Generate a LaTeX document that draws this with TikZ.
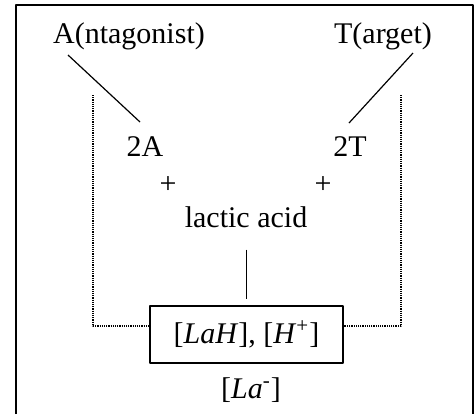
\documentclass[tikz,border=0pt]{standalone}
\usepackage{fontspec}
\setmainfont{Liberation Serif}
\begin{document}
\begin{tikzpicture}[x=0.5pt, y=-0.5pt, line join=round, font=\fontsize{15}{18}\selectfont,
	lbl/.style={inner sep=0pt, anchor=base},
	thin line/.style={line width=0.6pt},
	dotline/.style={line width=0.6pt, dash pattern=on 0.6pt off 0.5pt}]
	\useasboundingbox (0,0) rectangle (476,414);
	% Khung ngoài
	\draw[line width=0.8pt] (16,414) -- (16,5) -- (473,5) -- (473,414);
	
	% Các nhãn
	\node[lbl] (ant) at (129,43) {A(ntagonist)};
	\node[lbl] (tar) at (383,43) {T(arget)};
	\node[lbl] (twoA) at (145,156) {2A};
	\node[lbl] (twoT) at (350,156) {2T};
	\node[inner sep=0pt] (plA) at (168,185) {+};
	\node[inner sep=0pt] (plT) at (323,185) {+};
	\node[lbl] (lac) at (246,227) {lactic acid};
	\node[draw, thin line, minimum width=96.5pt, minimum height=28.5pt, inner sep=0pt]
		(conc) at (246.5,334.5) {[\textit{LaH}], [\textit{H}\textsuperscript{+}]};
	\node[lbl] (ion) at (251,398) {[\textit{La}\textsuperscript{-}]};
	
	% Các đường nối
	\coordinate (a1) at (68,55);  \coordinate (a2) at (140,122);
	\coordinate (t1) at (413,53); \coordinate (t2) at (349,123);
	\draw[thin line] (a1) -- (a2);
	\draw[thin line] (t1) -- (t2);
	\draw[thin line, shorten <=11pt, shorten >=3pt] (lac.south -| conc.north) -- (conc.north);
	
	% Đường chấm hai bên
	\coordinate (lt) at (93,95);  \coordinate (lb) at (93,326);
	\coordinate (rt) at (401,95); \coordinate (rb) at (401,326);
	\draw[dotline] (lt) -- (lb) -- (lb -| conc.west);
	\draw[dotline] (rt) -- (rb) -- (rb -| conc.east);
\end{tikzpicture}
\end{document}
